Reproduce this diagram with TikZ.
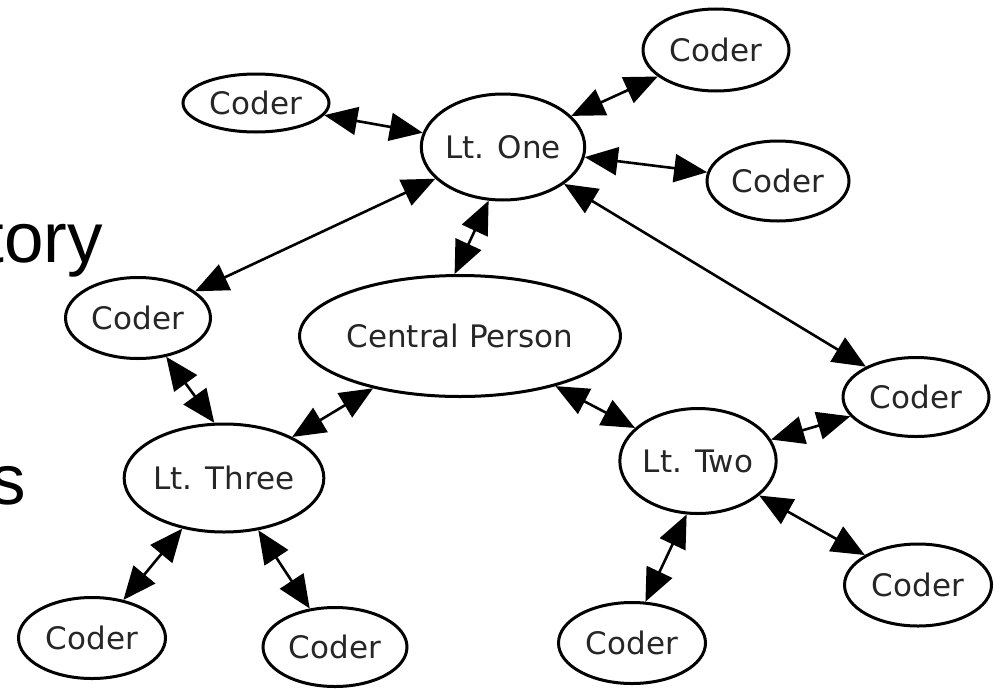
\documentclass[tikz,border=0pt]{standalone}
\usepackage{fontspec}
\newfontfamily\dvfont{DejaVu Sans}
\newfontfamily\slidefont{Liberation Sans}
\usetikzlibrary{arrows.meta,shapes.geometric}
\tikzset{
  person/.style={ellipse, draw=black, line width=3pt, inner sep=0pt,
    text=black!85, font=\dvfont\fontsize{31}{31}\selectfont},
  link/.style={line width=2.6pt, {Triangle[length=33pt,width=28pt]}-{Triangle[length=33pt,width=28pt]}},
  slidetext/.style={inner sep=0pt, font=\slidefont\fontsize{71}{71}\selectfont, text=black}
}
\begin{document}
\begin{tikzpicture}[x=1pt,y=-1pt]
\useasboundingbox (0,0) rectangle (1000,688);
\fill[white] (0,0) rectangle (1000,688);
% clipped slide text
\node[slidetext, anchor=base east] (tory) at (103,262) {tory};
\node[slidetext, anchor=base east] (s) at (26,504) {s};
% nodes
\node[person, minimum width=126pt, minimum height=106pt] (one) at (503,147) {Lt. One};
\node[person, minimum width=146pt, minimum height=58pt] (c1) at (256,103) {Coder};
\node[person, minimum width=146pt, minimum height=82pt] (c2) at (716,50) {Coder};
\node[person, minimum width=142pt, minimum height=80pt] (c3) at (778,181) {Coder};
\node[person, minimum width=145pt, minimum height=81pt] (c4) at (138,318) {Coder};
\node[person, minimum width=302pt, minimum height=121pt] (central) at (460,336) {Central Person};
\node[person, minimum width=146pt, minimum height=79pt] (c5) at (916,397) {Coder};
\node[person, minimum width=141pt, minimum height=105pt] (two) at (698,461) {Lt. Two};
\node[person, minimum width=170pt, minimum height=108pt] (three) at (224,478) {Lt. Three};
\node[person, minimum width=147pt, minimum height=81pt] (c6) at (92,638) {Coder};
\node[person, minimum width=144pt, minimum height=79pt] (c7) at (335,647) {Coder};
\node[person, minimum width=147pt, minimum height=81pt] (c8) at (632,643) {Coder};
\node[person, minimum width=147pt, minimum height=82pt] (c9) at (918,585) {Coder};
% connectors
\draw[link] (c1) -- (one);
\draw[link] (one) -- (c2);
\draw[link] (one) -- (c3);
\draw[link] (one) -- (c4);
\draw[link] (one.255) -- (central.95);
\draw[link] (one) -- (c5);
\draw[link] (central) -- (three);
\draw[link] (central) -- (two);
\draw[link] (c4) -- (three.100);
\draw[link] (two) -- (c5);
\draw[link] (two) -- (c9);
\draw[link] (two.258) -- (c8.72);
\draw[link] (three) -- (c6);
\draw[link] (three) -- (c7);
\end{tikzpicture}
\end{document}
